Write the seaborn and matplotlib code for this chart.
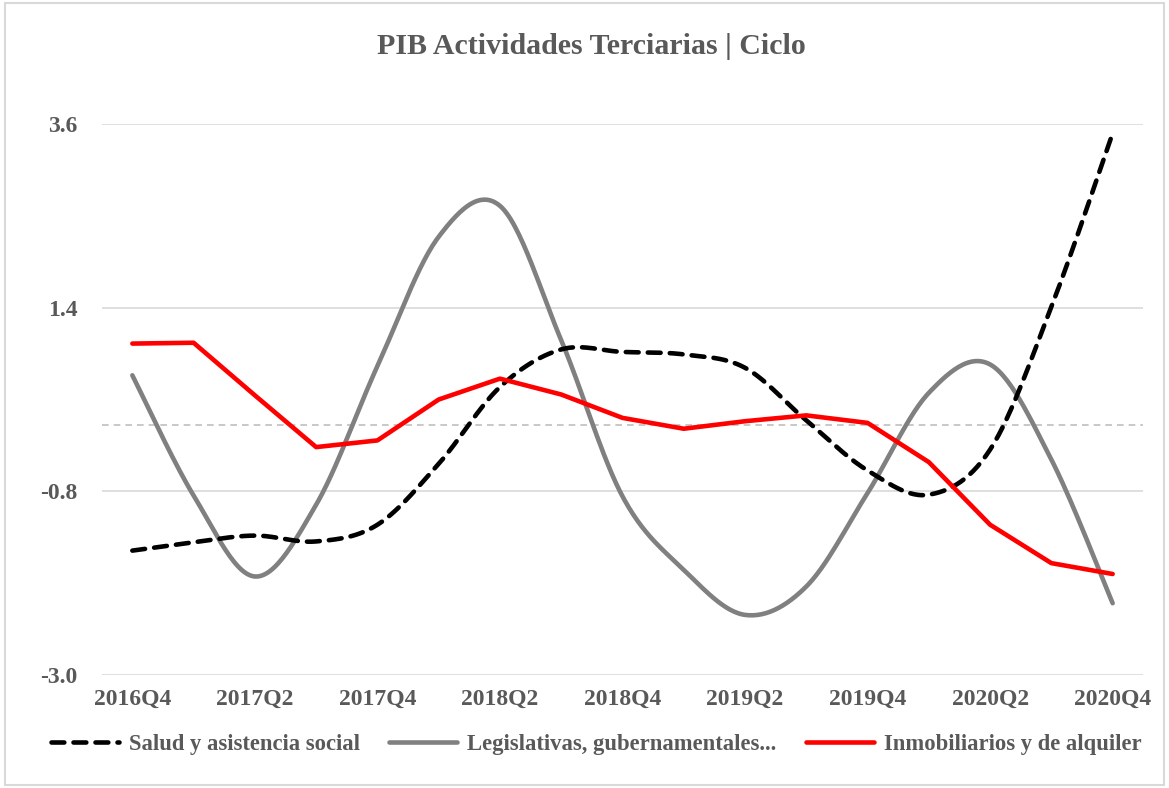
import numpy as np
import pandas as pd
import matplotlib
matplotlib.use("Agg")
import matplotlib.pyplot as plt
import seaborn as sns
from matplotlib.patches import Rectangle

quarters = ["2016Q4", "2017Q1", "2017Q2", "2017Q3", "2017Q4", "2018Q1", "2018Q2",
            "2018Q3", "2018Q4", "2019Q1", "2019Q2", "2019Q3", "2019Q4", "2020Q1",
            "2020Q2", "2020Q3", "2020Q4"]
salud = [-1.51, -1.41, -1.33, -1.40, -1.20, -0.47, 0.45, 0.90, 0.87, 0.84, 0.68,
         0.05, -0.55, -0.84, -0.30, 1.41, 3.49]
legislativas = [0.59, -0.85, -1.82, -0.96, 0.70, 2.25, 2.62, 1.01, -0.86, -1.74,
                -2.28, -1.94, -0.82, 0.38, 0.72, -0.42, -2.14]
inmobiliarios = [0.97, 0.98, 0.35, -0.27, -0.19, 0.30, 0.55, 0.36, 0.08, -0.05,
                 0.04, 0.11, 0.02, -0.45, -1.20, -1.66, -1.79]
yticks = [-3.0, -0.8, 1.4, 3.6]

TXT = "#595959"
FONT = "Liberation Serif"


# Excel-style smoothed line (bezier through the points, catmull-rom tangents)
def smooth(vals, n=30):
    y = np.asarray(vals, dtype=float)
    x = np.arange(len(y), dtype=float)
    p = np.column_stack([x, y])
    p = np.vstack([p[0], p, p[-1]])
    out = []
    t = np.linspace(0, 1, n)[:, None]
    for i in range(1, len(p) - 2):
        p0, p1, p2, p3 = p[i - 1], p[i], p[i + 1], p[i + 2]
        c1 = p1 + (p2 - p0) / 6
        c2 = p2 - (p3 - p1) / 6
        seg = ((1 - t) ** 3) * p1 + 3 * ((1 - t) ** 2) * t * c1 + 3 * (1 - t) * t ** 2 * c2 + t ** 3 * p2
        out.append(seg if i == 1 else seg[1:])
    out = np.vstack(out)
    return out[:, 0], out[:, 1]


sns.set_theme(style="white")
plt.rcParams["font.family"] = [FONT, "DejaVu Serif"]

fig = plt.figure(figsize=(11.69, 7.88), dpi=100)
ax = fig.add_axes([0.087, 0.1434, 0.891, 0.6992])

ax.axhline(0, color="#BFBFBF", lw=1.2, ls=(0, (4, 3)), zorder=1)
for v in yticks:
    ax.axhline(v, color="#D9D9D9", lw=1.2, zorder=1)

xs, ys = smooth(salud)
sns.lineplot(x=xs, y=ys, ax=ax, color="black", lw=3.3, sort=False, estimator=None,
             dashes=False, label="Salud y asistencia social", zorder=3)
ax.lines[-1].set_linestyle((0, (2.8, 2.0)))
ax.lines[-1].set_dash_capstyle("round")

xs, ys = smooth(legislativas)
sns.lineplot(x=xs, y=ys, ax=ax, color="#808080", lw=3.3, sort=False, estimator=None,
             label="Legislativas, gubernamentales...", zorder=2)

df_inm = pd.DataFrame({"x": np.arange(len(quarters)), "y": inmobiliarios})
sns.lineplot(data=df_inm, x="x", y="y", ax=ax, color="#FF0000", lw=3.3,
             label="Inmobiliarios y de alquiler", zorder=4)
for ln in ax.lines:
    ln.set_solid_capstyle("round")
    ln.set_solid_joinstyle("round")

ax.set_xlim(-0.5, len(quarters) - 0.5)
ax.set_ylim(-3.0, 3.6)
ax.set_yticks(yticks)
ax.set_yticklabels([f"{v:.1f}" for v in yticks])
ax.set_xticks(range(0, len(quarters), 2))
ax.set_xticklabels(quarters[::2])
ax.tick_params(axis="both", length=0, labelsize=17, labelcolor=TXT)
ax.tick_params(axis="y", pad=17.5)
ax.tick_params(axis="x", pad=10)
for lab in ax.get_xticklabels() + ax.get_yticklabels():
    lab.set_fontweight("bold")
ax.set_xlabel("")
ax.set_ylabel("")
for s in ax.spines.values():
    s.set_visible(False)

handles, labels = ax.get_legend_handles_labels()
ax.get_legend().remove()
leg = fig.legend(handles, labels, loc="center", bbox_to_anchor=(0.51, 0.055), ncol=3,
                 frameon=False, handlelength=3.0, handletextpad=0.45, columnspacing=1.3,
                 prop={"family": FONT, "weight": "bold", "size": 16.3})
for t in leg.get_texts():
    t.set_color(TXT)

fig.suptitle("PIB Actividades Terciarias | Ciclo", x=0.506, y=0.958, fontsize=21.5,
             fontweight="bold", color=TXT)

fig.patches.append(Rectangle((0.004, 0.004), 0.992, 0.992, transform=fig.transFigure,
                             fill=False, edgecolor="#D9D9D9", lw=1.5))

fig.savefig("out.png", dpi=100)
